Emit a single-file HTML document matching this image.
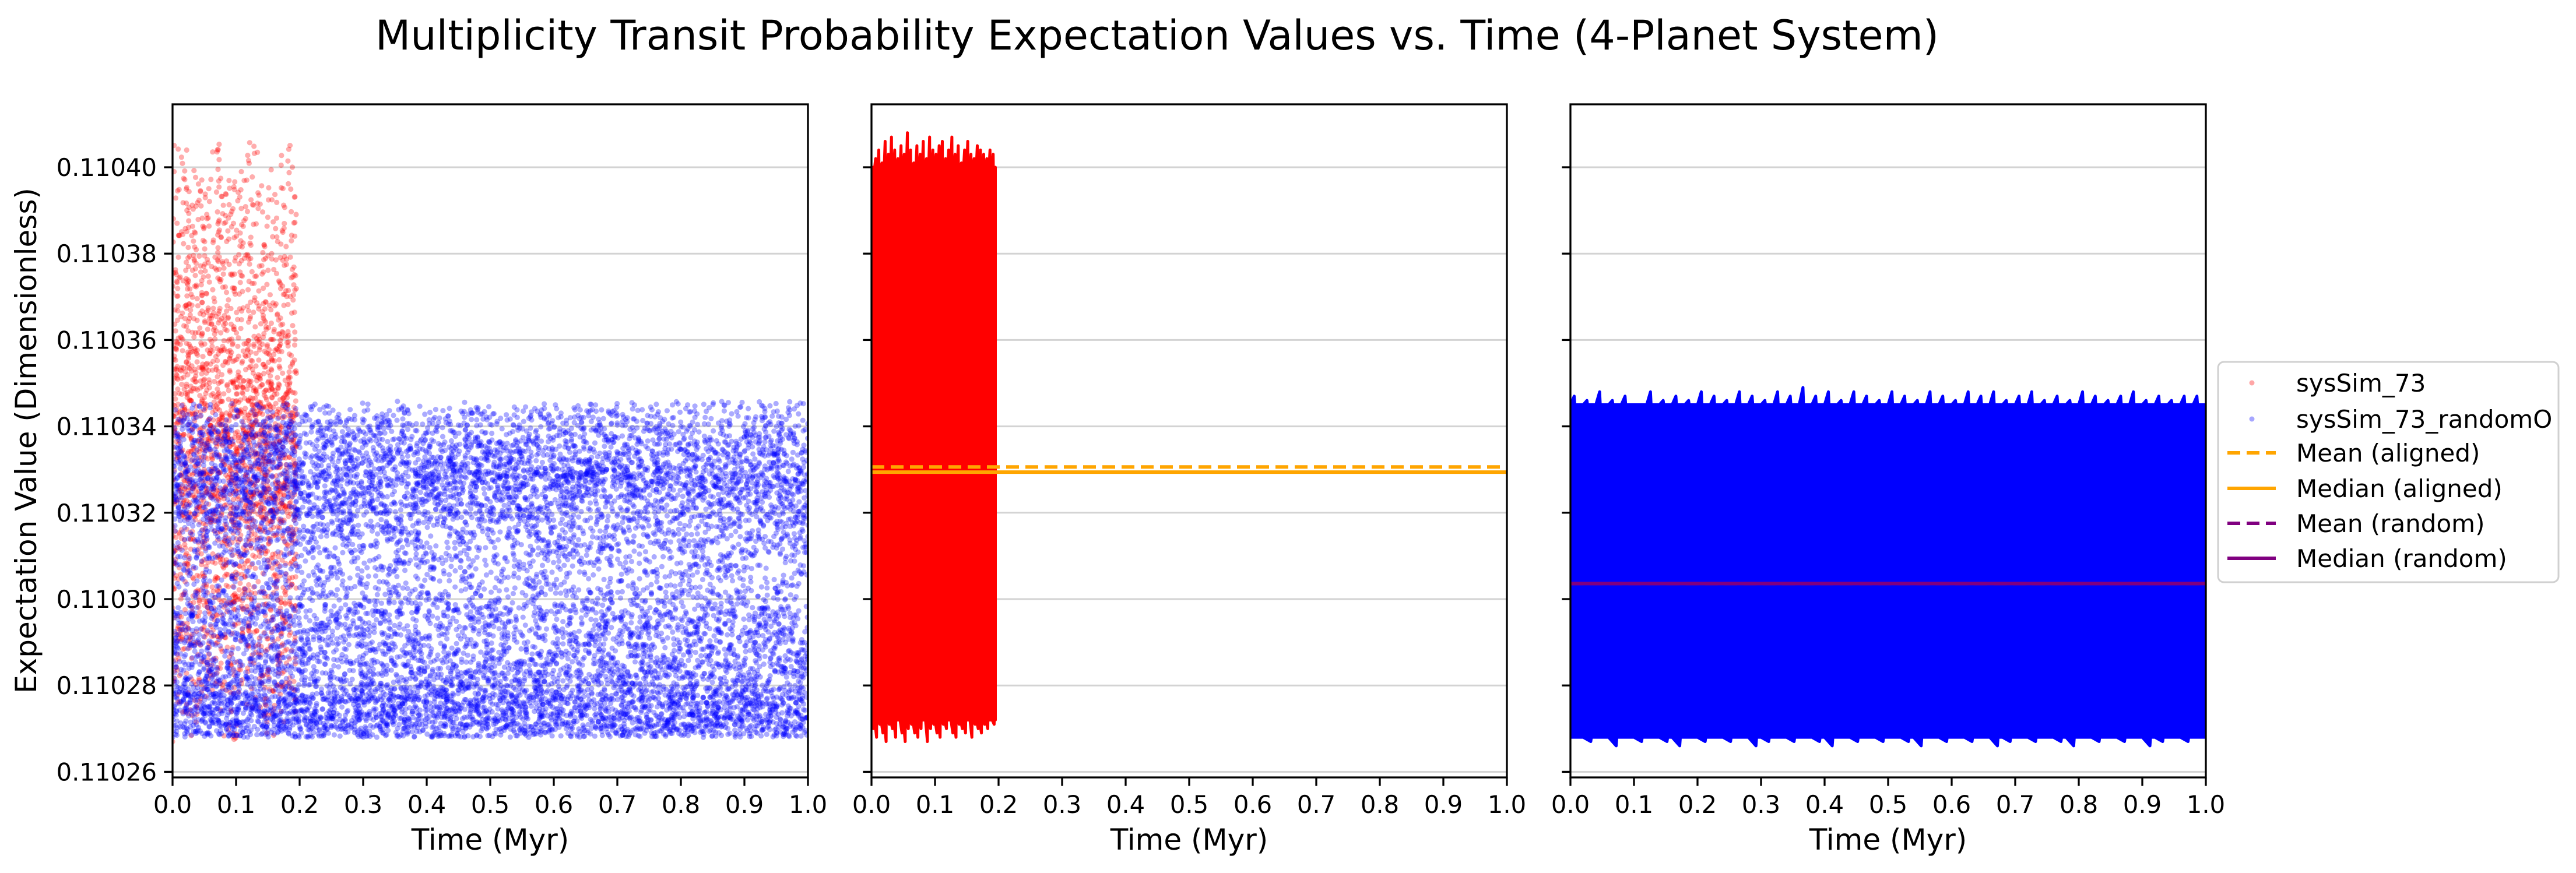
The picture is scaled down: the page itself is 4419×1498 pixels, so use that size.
<!DOCTYPE html>
<html><head><meta charset="utf-8">
<style>
html,body{margin:0;padding:0;background:#fff;}
svg{display:block;font-family:"DejaVu Sans","Liberation Sans",sans-serif;}
</style></head>
<body>
<svg id="chart" width="4419" height="1498" viewBox="0 0 4419 1498" xmlns="http://www.w3.org/2000/svg">
<rect x="0" y="0" width="4419" height="1498" fill="#fff"/>
<text x="1985" y="85" font-size="70" text-anchor="middle">Multiplicity Transit Probability Expectation Values vs. Time (4-Planet System)</text>
<text transform="translate(62,756) rotate(-90)" font-size="50" text-anchor="middle">Expectation Value (Dimensionless)</text>
<g id="panels"></g>
<g id="legend">
<rect x="3805" y="621" width="584" height="378" rx="10" fill="#fff" stroke="#d0d0d0" stroke-width="3"/>
<circle cx="3863" cy="657" r="4.5" fill="red" fill-opacity="0.35"/>
<text x="3939" y="672" font-size="42">sysSim_73</text>
<circle cx="3863" cy="719" r="4.5" fill="blue" fill-opacity="0.35"/>
<text x="3939" y="734" font-size="42">sysSim_73_randomO</text>
<line x1="3821" y1="777" x2="3904" y2="777" stroke="orange" stroke-width="6" stroke-dasharray="22,11"/>
<text x="3939" y="792" font-size="42">Mean (aligned)</text>
<line x1="3821" y1="838" x2="3904" y2="838" stroke="orange" stroke-width="6"/>
<text x="3939" y="853" font-size="42">Median (aligned)</text>
<line x1="3821" y1="898" x2="3904" y2="898" stroke="purple" stroke-width="6" stroke-dasharray="22,11"/>
<text x="3939" y="913" font-size="42">Mean (random)</text>
<line x1="3821" y1="958" x2="3904" y2="958" stroke="purple" stroke-width="6"/>
<text x="3939" y="973" font-size="42">Median (random)</text>
</g>
</svg>
<script>
// ---- data ----
const yTicks = [0.11026,0.11028,0.11030,0.11032,0.11034,0.11036,0.11038,0.11040];
const yTickLabels = ["0.11026","0.11028","0.11030","0.11032","0.11034","0.11036","0.11038","0.11040"];
const xTicks = [0,0.1,0.2,0.3,0.4,0.5,0.6,0.7,0.8,0.9,1.0];
const xTickLabels = ["0.0","0.1","0.2","0.3","0.4","0.5","0.6","0.7","0.8","0.9","1.0"];
const redEnd = 0.195;
// envelope offsets in 1e-6 relative to 0.1103
const redHi = [100,102,104,101,106,103,107,104,102,105,103,108,104,101,105,103,106,102,107,104,103,105,106,102,104,107,103,105,101,104,106,103,102,105,104,103,102,104,103];
const redLo = [-30,-32,-29,-31,-33,-29,-30,-32,-28,-31,-33,-30,-29,-31,-32,-30,-28,-33,-30,-29,-31,-32,-29,-30,-28,-31,-32,-29,-30,-31,-28,-32,-29,-30,-31,-29,-30,-28,-29];
const blueHi = [47,46,48,46,47,45,48,46,47,46,48,47,46,48,47,46,48,47,49,47,48,46,48,47,46,48,47,46,48,47,46,48,47,48,46,47,48,46,47,46,48,47,46,47,48,46,47,46,47,47];
const blueLo = [-32,-33,-32,-34,-32,-33,-32,-33,-34,-32,-33,-32,-33,-32,-34,-33,-32,-33,-32,-33,-34,-32,-33,-32,-33,-32,-33,-34,-32,-33,-32,-33,-32,-34,-33,-32,-33,-32,-33,-34,-32,-33,-32,-33,-32,-34,-33,-32,-33,-32];
const meanAligned = 0.1103306, medianAligned = 0.1103294;
const meanRandom = 0.1103036, medianRandom = 0.1103036;
const redScatterRange = [0.110267, 0.110406];
const blueBottom = 0.110268, blueBand = 0.110328, blueSpread = 0.000020;

// ---- layout ----
const NS = "http://www.w3.org/2000/svg";
const panelLefts = [296,1495,2694], PW = 1090, PT = 179, PB = 1334;
function yS(v){ return 287 + (0.11040 - v)/0.00002*148.2; }
function xS(t,p){ return panelLefts[p] + t*PW; }
function mk(tag, attrs, parent){ const e=document.createElementNS(NS,tag); for(const k in attrs) e.setAttribute(k,attrs[k]); parent.appendChild(e); return e; }
const root = document.getElementById('panels');
const GR = 0.6180339887, S2 = 0.41421356, S3 = 0.7320508, S5 = 0.2360679;
function fr(x){ return x - Math.floor(x); }

for(let p=0;p<3;p++){
  const g = mk('g',{},root);
  
  
  const L = panelLefts[p];
  yTicks.forEach((v,i)=>{
    const gl = mk('line',{x1:L,x2:L+PW,y1:yS(v),y2:yS(v),stroke:'#d3d3d3','stroke-width':3},g);
    
    
  });
  const clip = mk('clipPath',{id:'clip'+p},g);
  mk('rect',{x:L,y:PT,width:PW,height:PB-PT},clip);
  const plot = mk('g',{'clip-path':'url(#clip'+p+')'},g);
  if(p===0){
    const rs = mk('g',{fill:'red','fill-opacity':0.32},plot);
    
    
    const N=2400;
    for(let i=0;i<N;i++){
      const t = fr(i*GR + i*i*1e-5*S5)*redEnd;
      const u = fr(i*i*S2*0.5 + i*S3);
      const w = 0.5-0.5*Math.cos(2*Math.PI*fr(i*i*S3*0.37+i*S5));
      const f = 0.6*u + 0.4*w;
      const v = redScatterRange[0] + f*(redScatterRange[1]-redScatterRange[0]);
      mk('circle',{cx:xS(t,0).toFixed(1),cy:yS(v).toFixed(1),r:4.6},rs);
    }
    const bs = mk('g',{fill:'blue','fill-opacity':0.33},plot);
    
    
    const M=11000;
    for(let i=0;i<M;i++){
      const t = fr(i*GR + i*i*3e-7);
      const a = 0.5-0.5*Math.cos(2*Math.PI*fr(i*i*S2*0.5 + i*S5));
      const s = fr(i*i*S3*0.29 + i*S2);
      const v = blueBottom + a*(blueBand-blueBottom) + (a>0.5 ? blueSpread*(s-0.1) : blueSpread*0.5*Math.pow(s,2));
      mk('circle',{cx:xS(t,0).toFixed(1),cy:yS(v).toFixed(1),r:4.6},bs);
    }
  }
  if(p===1 || p===2){
    const hi = p===1?redHi:blueHi, lo = p===1?redLo:blueLo;
    const tEnd = p===1?redEnd:1;
    const n = hi.length, w = tEnd/n;
    const coreHi = Math.min(...hi), coreLo = Math.max(...lo);
    let pts=[];
    for(let i=0;i<n;i++){
      const t0=i*w;
      pts.push([xS(t0,p), yS(0.1103+coreHi*1e-6)]);
      pts.push([xS(t0+w*0.3,p), yS(0.1103+hi[i]*1e-6)]);
      pts.push([xS(t0+w*0.35,p), yS(0.1103+coreHi*1e-6)]);
    }
    pts.push([xS(tEnd,p), yS(0.1103+coreHi*1e-6)]);
    pts.push([xS(tEnd,p), yS(0.1103+coreLo*1e-6)]);
    for(let i=n-1;i>=0;i--){
      const t0=i*w;
      pts.push([xS(t0+w*0.65,p), yS(0.1103+coreLo*1e-6)]);
      pts.push([xS(t0+w*0.6,p), yS(0.1103+lo[i]*1e-6)]);
      pts.push([xS(t0,p), yS(0.1103+coreLo*1e-6)]);
    }
    const poly = mk('polygon',{points:pts.map(q=>q[0].toFixed(1)+','+q[1].toFixed(1)).join(' '),fill:p===1?'red':'blue',stroke:p===1?'red':'blue','stroke-width':5,'stroke-linejoin':'round'},plot);
    
    
    if(p===1){
      const m1 = mk('line',{x1:L,x2:L+PW,y1:yS(meanAligned),y2:yS(meanAligned),stroke:'orange','stroke-width':6,'stroke-dasharray':'22,11'},plot);
      
      
      const m2 = mk('line',{x1:L,x2:L+PW,y1:yS(medianAligned),y2:yS(medianAligned),stroke:'orange','stroke-width':6},plot);
      
      
    } else {
      const m3 = mk('line',{x1:L,x2:L+PW,y1:yS(meanRandom),y2:yS(meanRandom),stroke:'purple','stroke-width':6,'stroke-dasharray':'22,11'},plot);
      
      
      const m4 = mk('line',{x1:L,x2:L+PW,y1:yS(medianRandom),y2:yS(medianRandom),stroke:'purple','stroke-width':6},plot);
      
      
    }
  }
  const frm = mk('rect',{x:L,y:PT,width:PW,height:PB-PT,fill:'none',stroke:'#000','stroke-width':3.3},g);
  
  
  yTicks.forEach((v,i)=>{
    const tk = mk('line',{x1:L-14.6,x2:L,y1:yS(v),y2:yS(v),stroke:'#000','stroke-width':3.3},g);
    
    
    if(p===0){
      const tl = mk('text',{x:L-27,y:yS(v)+15,'font-size':41.7,'text-anchor':'end'},g);
      tl.textContent = yTickLabels[i];
      
      
    }
  });
  xTicks.forEach((t,i)=>{
    const tk = mk('line',{x1:xS(t,p),x2:xS(t,p),y1:PB,y2:PB+14.6,stroke:'#000','stroke-width':3.3},g);
    
    
    const tl = mk('text',{x:xS(t,p),y:PB+61,'font-size':41.7,'text-anchor':'middle'},g);
    tl.textContent = xTickLabels[i];
    
    
  });
  const xl = mk('text',{x:L+PW/2,y:1458,'font-size':50,'text-anchor':'middle'},g);
  xl.textContent = 'Time (Myr)';
  
  
}
</script>
</body></html>
